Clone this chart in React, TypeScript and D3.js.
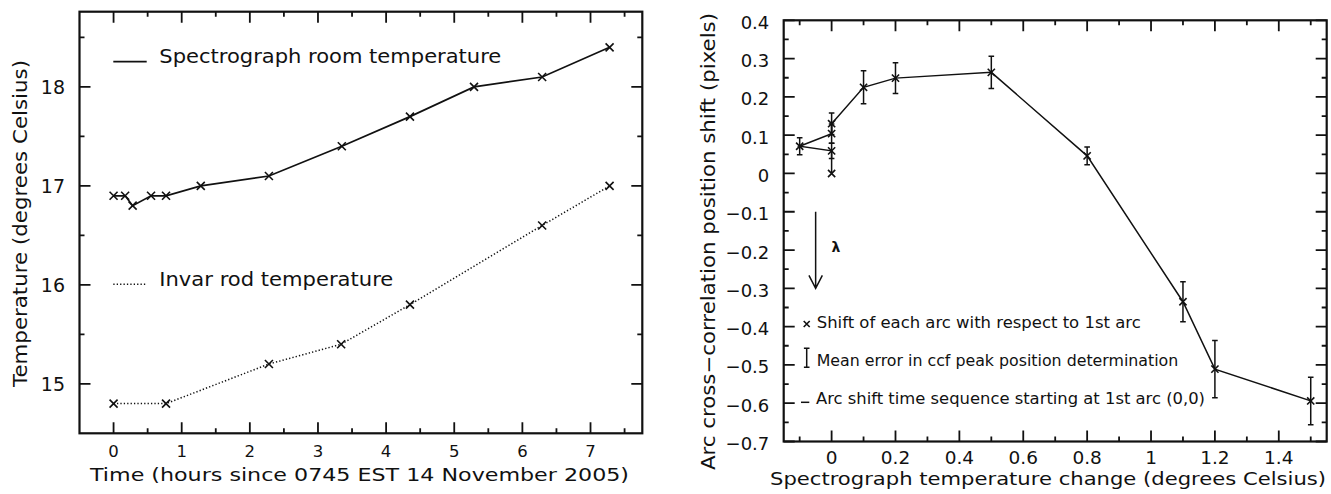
import React from 'react';
import * as d3 from 'd3';

// ---------- Left panel data ----------
const roomTime = [0, 0.17, 0.28, 0.55, 0.77, 1.28, 2.28, 3.35, 4.35, 5.29, 6.29, 7.28];
const roomTemp = [16.9, 16.9, 16.8, 16.9, 16.9, 17.0, 17.1, 17.4, 17.7, 18.0, 18.1, 18.4];
const invarTime = [0, 0.77, 2.28, 3.34, 4.35, 6.29, 7.28];
const invarTemp = [14.8, 14.8, 15.2, 15.4, 15.8, 16.6, 17.0];
const leftXMajor = [0, 1, 2, 3, 4, 5, 6, 7];
const leftXMinor = [0.5, 1.5, 2.5, 3.5, 4.5, 5.5, 6.5, 7.5];
const leftYMajor = [15, 16, 17, 18];
const leftYMinor = [15.5, 16.5, 17.5, 18.5];

// ---------- Right panel data (time sequence order) ----------
const tempChange = [0, 0, -0.1, 0, 0, 0.1, 0.2, 0.5, 0.8, 1.1, 1.2, 1.5];
const arcShift = [0, 0.059, 0.071, 0.104, 0.130, 0.225, 0.249, 0.264, 0.046, -0.335, -0.511, -0.594];
const shiftErr = [0, 0.02, 0.022, 0.025, 0.028, 0.043, 0.04, 0.042, 0.023, 0.052, 0.075, 0.062];
const rightXMajor = [0, 0.2, 0.4, 0.6, 0.8, 1, 1.2, 1.4];
const rightXMinor = [-0.1, 0.1, 0.3, 0.5, 0.7, 0.9, 1.1, 1.3, 1.5];
const rightYMajor = [-0.7, -0.6, -0.5, -0.4, -0.3, -0.2, -0.1, 0, 0.1, 0.2, 0.3, 0.4];
const rightYMinor = [-0.65, -0.55, -0.45, -0.35, -0.25, -0.15, -0.05, 0.05, 0.15, 0.25, 0.35];

const FONT = '"DejaVu Sans", "Liberation Sans", sans-serif';
const INK = '#111';

type Lin = d3.ScaleLinear<number, number>;

function FrameTicks({ x, y, xMaj, xMin, yMaj, yMin }: { x: Lin; y: Lin; xMaj: number[]; xMin: number[]; yMaj: number[]; yMin: number[] }) {
  const [x0, x1] = x.range();
  const [y0, y1] = y.range(); // y0 bottom, y1 top
  const MAJ = 11, MIN = 5;
  const segs: string[] = [];
  xMaj.forEach(v => { const p = x(v); segs.push(`M${p},${y0}V${y0 - MAJ}`, `M${p},${y1}V${y1 + MAJ}`); });
  xMin.forEach(v => { const p = x(v); segs.push(`M${p},${y0}V${y0 - MIN}`, `M${p},${y1}V${y1 + MIN}`); });
  yMaj.forEach(v => { const p = y(v); segs.push(`M${x0},${p}H${x0 + MAJ}`, `M${x1},${p}H${x1 - MAJ}`); });
  yMin.forEach(v => { const p = y(v); segs.push(`M${x0},${p}H${x0 + MIN}`, `M${x1},${p}H${x1 - MIN}`); });
  return (
    <g>
      <path d={segs.join('')} stroke={INK} strokeWidth={1.8} fill="none" />
      <rect x={x0} y={y1} width={x1 - x0} height={y0 - y1} fill="none" stroke={INK} strokeWidth={2.2} />
    </g>
  );
}

function Cross({ cx, cy, r }: { cx: number; cy: number; r: number }) {
  return <path d={`M${cx - r},${cy - r}L${cx + r},${cy + r}M${cx - r},${cy + r}L${cx + r},${cy - r}`} stroke={INK} strokeWidth={1.6} fill="none" />;
}

function LeftPanel() {
  const x = d3.scaleLinear().domain([-0.5, 7.76]).range([79.5, 642.3]);
  const y = d3.scaleLinear().domain([14.5, 18.76]).range([433.3, 11.7]);
  const lineGen = d3.line<[number, number]>().x(d => x(d[0])).y(d => y(d[1]));
  const roomLine = lineGen(roomTime.map((t, i) => [t, roomTemp[i]]));
  const invarLine = lineGen(invarTime.map((t, i) => [t, invarTemp[i]]));
  return (
    <g>
      <FrameTicks x={x} y={y} xMaj={leftXMajor} xMin={leftXMinor} yMaj={leftYMajor} yMin={leftYMinor} />
      <path d={roomLine || ''} stroke={INK} strokeWidth={1.7} fill="none" />
      <path d={invarLine || ''} stroke={INK} strokeWidth={1.5} fill="none" strokeDasharray="1.3 2.1" />
      {roomTime.map((t, i) => <Cross key={'r' + i} cx={x(t)} cy={y(roomTemp[i])} r={4} />)}
      {invarTime.map((t, i) => <Cross key={'v' + i} cx={x(t)} cy={y(invarTemp[i])} r={4} />)}
      {leftXMajor.map(v => (
        <text key={'xl' + v} x={x(v)} y={457.3} fontSize={16.5} fontFamily={FONT} textAnchor="middle" fill={INK}>{v}</text>
      ))}
      {leftYMajor.map(v => (
        <text key={'yl' + v} x={65} y={y(v) + 7} fontSize={19} fontFamily={FONT} textAnchor="end" fill={INK}>{v}</text>
      ))}
      {/* legend */}
      <path d="M113.3,61.7H146.7" stroke={INK} strokeWidth={1.7} />
      <text x={159.3} y={63} fontSize={20} fontFamily={FONT} fill={INK} textLength={342} lengthAdjust="spacingAndGlyphs">Spectrograph room temperature</text>
      <path d="M113.3,284.3H147.3" stroke={INK} strokeWidth={1.5} strokeDasharray="1.3 2.1" />
      <text x={159.3} y={286} fontSize={20} fontFamily={FONT} fill={INK} textLength={234} lengthAdjust="spacingAndGlyphs">Invar rod temperature</text>
      <text x={359.5} y={481} fontSize={18} fontFamily={FONT} textAnchor="middle" fill={INK} textLength={539} lengthAdjust="spacingAndGlyphs">Time (hours since 0745 EST 14 November 2005)</text>
      <text transform="translate(27,223.5) rotate(-90)" fontSize={20} fontFamily={FONT} textAnchor="middle" fill={INK} textLength={327} lengthAdjust="spacingAndGlyphs">Temperature (degrees Celsius)</text>
    </g>
  );
}

function fmt(v: number) {
  const a = Math.abs(v);
  const t = a === 0 ? '0' : (a === 1 ? '1' : d3.format('.1f')(a));
  return (v < 0 ? '\u2212' : '') + t;
}

function RightPanel() {
  const x = d3.scaleLinear().domain([-0.15, 1.55]).range([783.7, 1326.7]);
  const y = d3.scaleLinear().domain([-0.7, 0.4]).range([441.5, 20.3]);
  const pts: [number, number][] = tempChange.map((t, i) => [t, arcShift[i]]);
  const seq = d3.line<[number, number]>().x(d => x(d[0])).y(d => y(d[1]))(pts);
  const cap = 2.8;
  const ax = x(-0.05);
  return (
    <g>
      <FrameTicks x={x} y={y} xMaj={rightXMajor} xMin={rightXMinor} yMaj={rightYMajor} yMin={rightYMinor} />
      <path d={seq || ''} stroke={INK} strokeWidth={1.5} fill="none" />
      {pts.map((p, i) => {
        const e = shiftErr[i];
        if (e <= 0) return null;
        const cx = x(p[0]);
        const yt = y(p[1] + e), yb = y(p[1] - e);
        return <path key={'e' + i} d={`M${cx},${yt}V${yb}M${cx - cap},${yt}H${cx + cap}M${cx - cap},${yb}H${cx + cap}`} stroke={INK} strokeWidth={1.5} fill="none" />;
      })}
      {pts.map((p, i) => <Cross key={'c' + i} cx={x(p[0])} cy={y(p[1])} r={3.6} />)}
      {rightXMajor.map(v => (
        <text key={'xl' + v} x={x(v)} y={463.5} fontSize={18.5} fontFamily={FONT} textAnchor="middle" fill={INK}>{fmt(v)}</text>
      ))}
      {rightYMajor.map(v => (
        <text key={'yl' + v} x={769.3} y={y(v) + 8.5} fontSize={18} fontFamily={FONT} textAnchor="end" fill={INK}>{fmt(v)}</text>
      ))}
      {/* wavelength arrow */}
      <path d={`M${ax},${y(-0.1)}V${y(-0.3)}M${ax - 6.7},${y(-0.3) - 13}L${ax},${y(-0.3)}L${ax + 6.7},${y(-0.3) - 13}`} stroke={INK} strokeWidth={1.5} fill="none" />
      <text x={836} y={251.7} fontSize={14} fontWeight="bold" fontFamily={FONT} textAnchor="middle" fill={INK}>λ</text>
      {/* legend */}
      <Cross cx={806.7} cy={324} r={3} />
      <text x={816.7} y={327.7} fontSize={16} fontFamily={FONT} fill={INK} textLength={324} lengthAdjust="spacingAndGlyphs">Shift of each arc with respect to 1st arc</text>
      <path d="M806.7,348.3V367.3M803.9,348.3H809.5M803.9,367.3H809.5" stroke={INK} strokeWidth={1.5} fill="none" />
      <text x={816.7} y={366} fontSize={16} fontFamily={FONT} fill={INK} textLength={361.6} lengthAdjust="spacingAndGlyphs">Mean error in ccf peak position determination</text>
      <path d="M801,402.3H809.3" stroke={INK} strokeWidth={1.5} />
      <text x={816} y={404} fontSize={16} fontFamily={FONT} fill={INK} textLength={389} lengthAdjust="spacingAndGlyphs">Arc shift time sequence starting at 1st arc (0,0)</text>
      <text x={770} y={484.5} fontSize={18.5} fontFamily={FONT} fill={INK} textLength={556} lengthAdjust="spacingAndGlyphs">Spectrograph temperature change (degrees Celsius)</text>
      <text transform="translate(715,241.5) rotate(-90)" fontSize={19} fontFamily={FONT} textAnchor="middle" fill={INK} textLength={457} lengthAdjust="spacingAndGlyphs">Arc cross−correlation position shift (pixels)</text>
    </g>
  );
}

export default function App() {
  return (
    <div style={{ position: 'absolute', left: 0, top: 0 }}>
      <svg width={1331} height={494} viewBox="0 0 1331 494" style={{ display: 'block', background: '#fff' }}>
        <LeftPanel />
        <RightPanel />
      </svg>
    </div>
  );
}
